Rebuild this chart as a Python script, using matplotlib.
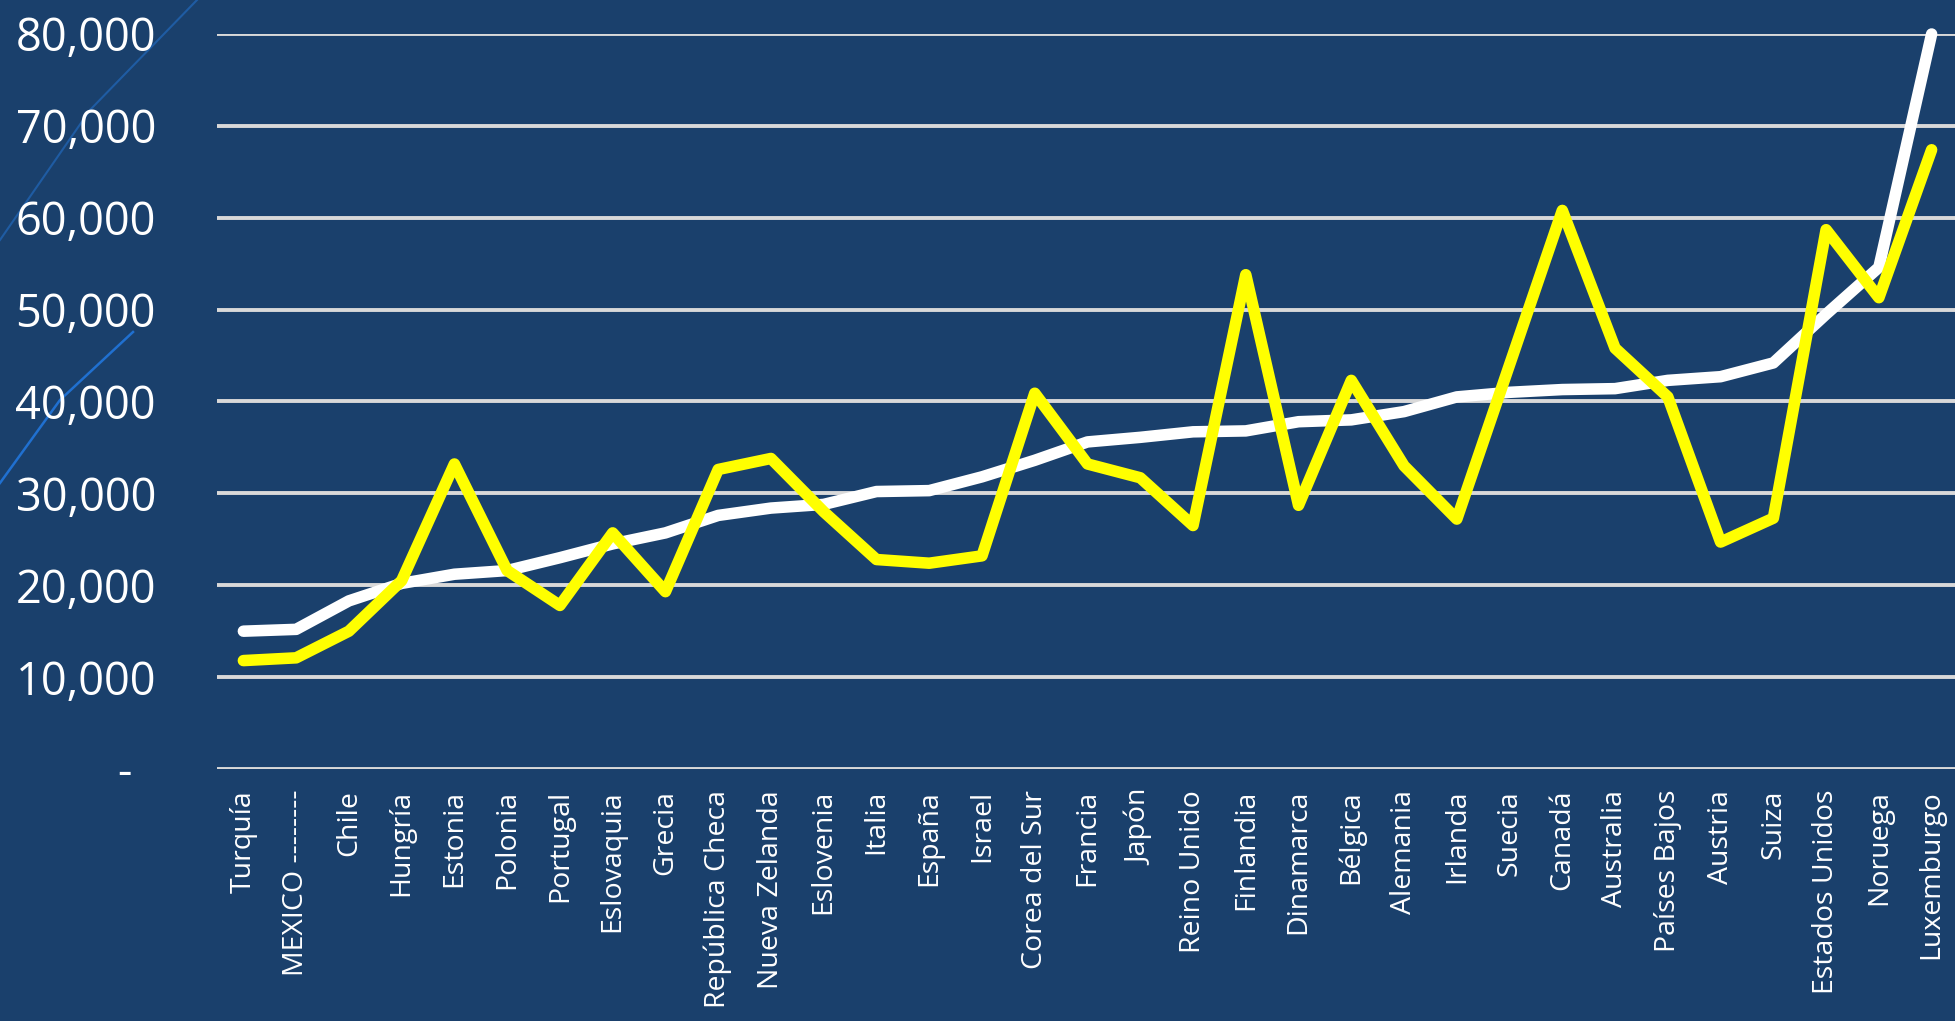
import matplotlib
matplotlib.use("Agg")
import matplotlib.pyplot as plt
from matplotlib.lines import Line2D
from matplotlib.ticker import FuncFormatter

countries = ["Turquía", "MEXICO --------", "Chile", "Hungría", "Estonia", "Polonia",
             "Portugal", "Eslovaquia", "Grecia", "República Checa", "Nueva Zelanda",
             "Eslovenia", "Italia", "España", "Israel", "Corea del Sur", "Francia",
             "Japón", "Reino Unido", "Finlandia", "Dinamarca", "Bélgica", "Alemania",
             "Irlanda", "Suecia", "Canadá", "Australia", "Países Bajos", "Austria",
             "Suiza", "Estados Unidos", "Noruega", "Luxemburgo"]

white_series = [15000, 15200, 18300, 20200, 21200, 21600, 23000, 24500, 25700, 27600,
                28400, 28800, 30200, 30300, 31800, 33600, 35600, 36100, 36700, 36800,
                37800, 38000, 38900, 40500, 41000, 41300, 41400, 42300, 42700, 44200,
                49500, 54600, 80000]

yellow_series = [11800, 12100, 15000, 20500, 33200, 21600, 17800, 25700, 19300, 32600,
                 33800, 28000, 22800, 22400, 23200, 40900, 33200, 31700, 26500, 53800,
                 28700, 42300, 33000, 27200, 44000, 60800, 45800, 40500, 24700, 27300,
                 58700, 51300, 67400]

yticks = [0, 10000, 20000, 30000, 40000, 50000, 60000, 70000, 80000]

BG = "#1a406c"
W, H = 1955, 1021

plt.rcParams['font.family'] = ['Open Sans', 'DejaVu Sans']
fig = plt.figure(figsize=(W / 100, H / 100), dpi=100, facecolor=BG)
ax = fig.add_axes([217 / W, 1 - 769 / H, (1958 - 217) / W, (769 - 34) / H])
ax.set_facecolor(BG)

# decorative lines
def px(points):
    xs = [p[0] / W for p in points]
    ys = [1 - p[1] / H for p in points]
    return xs, ys

xs, ys = px([(197, 0), (90, 110), (0, 240)])
fig.add_artist(Line2D(xs, ys, color="#1f5ca3", lw=1.5, zorder=0))
xs, ys = px([(133, 332), (60, 400), (0, 483)])
fig.add_artist(Line2D(xs, ys, color="#2070d0", lw=1.8, zorder=0))

x = list(range(len(countries)))
ax.plot(x, white_series, color="white", lw=8.3, solid_capstyle="round",
        solid_joinstyle="round", zorder=3, clip_on=False)
ax.plot(x, yellow_series, color="#ffff00", lw=8.3, solid_capstyle="round",
        solid_joinstyle="round", zorder=4, clip_on=False)

ax.set_xlim(-0.5, len(countries) - 0.5)
ax.set_ylim(0, 80000)
ax.set_yticks(yticks)
ax.yaxis.set_major_formatter(FuncFormatter(lambda v, p: "-  " if v == 0 else f"{int(v):,}"))
ax.grid(axis="y", color="#d9d9d9", lw=2.8, zorder=1)
ax.set_axisbelow(True)
ax.set_xticks(x)
ax.set_xticklabels(countries, rotation=90, ha="center", va="top")

for s in ax.spines.values():
    s.set_visible(False)
ax.tick_params(axis="y", length=0, pad=44, labelsize=32.5, labelcolor="white")
ax.tick_params(axis="x", length=0, pad=15, labelsize=20.5, labelcolor="white")

fig.savefig("out.png", dpi=100, facecolor=BG)
